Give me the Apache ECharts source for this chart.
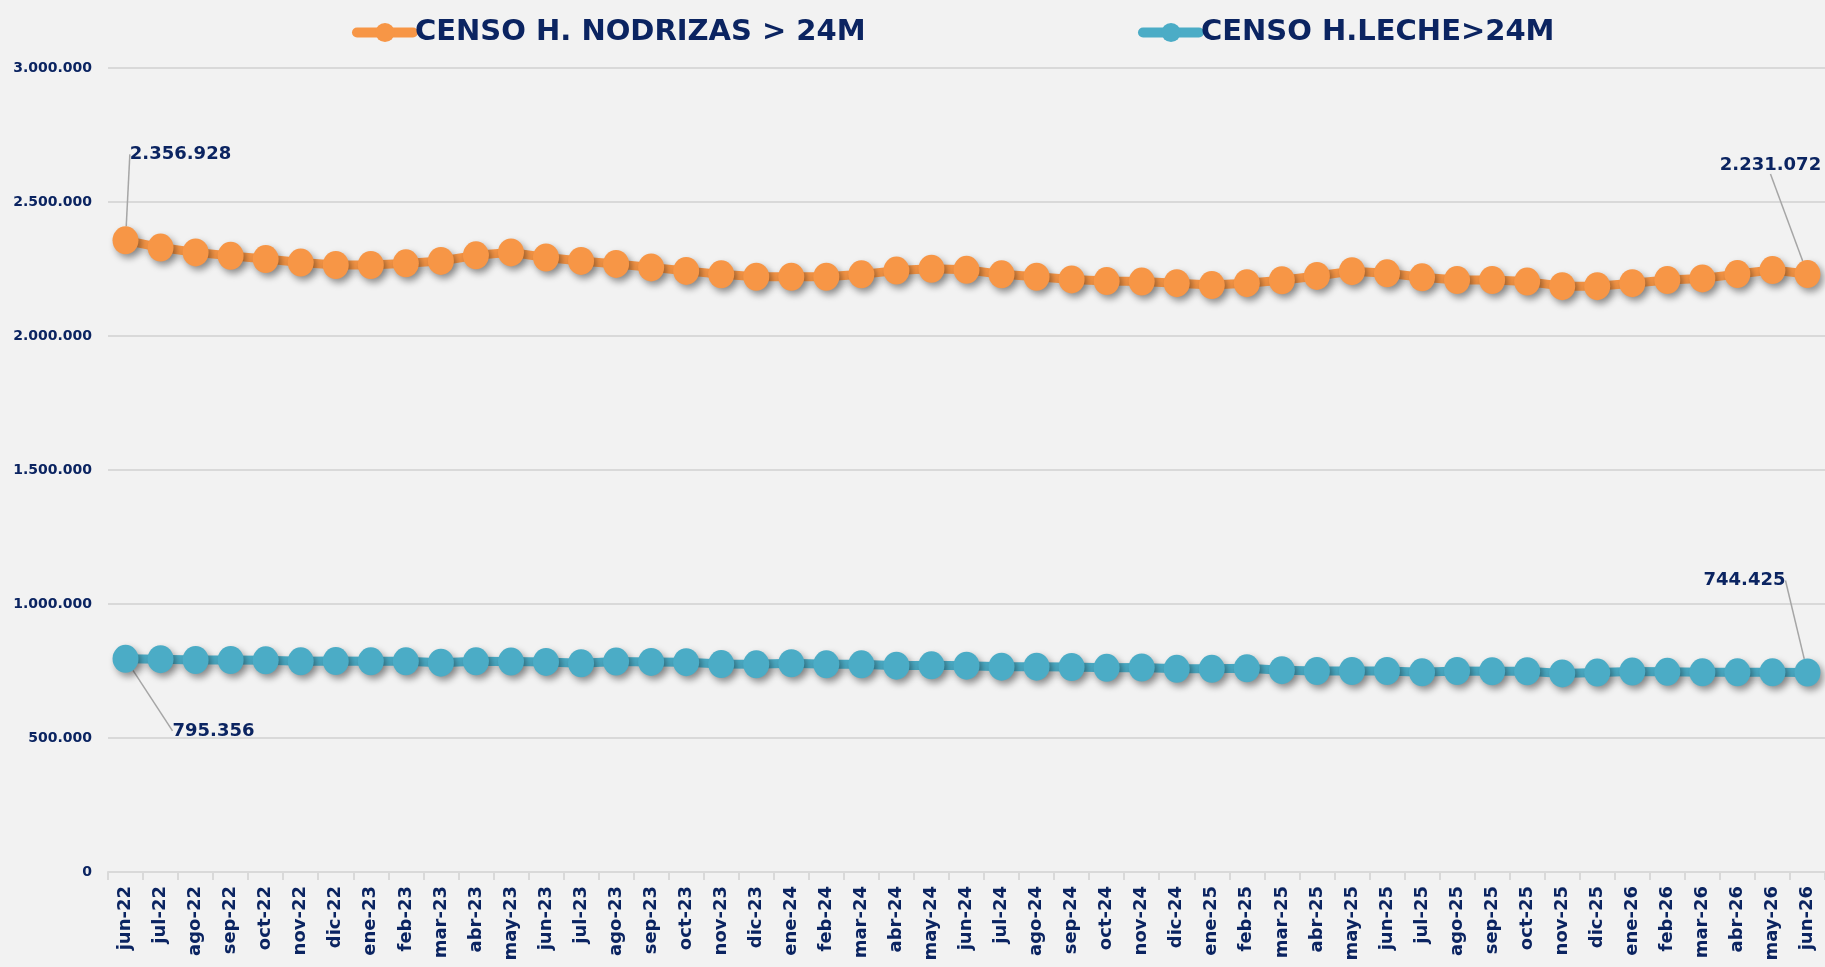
<!DOCTYPE html>
<html style="height: 100%">
<head>
    <meta charset="utf-8">
</head>
<body style="height: 100%; margin: 0; background: #f2f2f2">
    <div id="container" style="height: 100%"></div>
    <script src="https://cdn.jsdelivr.net/npm/echarts/dist/echarts.min.js"></script>
    <script type="text/javascript">
        // meses jun-22 .. jun-26
        var meses = ['jun-22', 'jul-22', 'ago-22', 'sep-22', 'oct-22', 'nov-22', 'dic-22',
            'ene-23', 'feb-23', 'mar-23', 'abr-23', 'may-23', 'jun-23', 'jul-23', 'ago-23', 'sep-23', 'oct-23', 'nov-23', 'dic-23',
            'ene-24', 'feb-24', 'mar-24', 'abr-24', 'may-24', 'jun-24', 'jul-24', 'ago-24', 'sep-24', 'oct-24', 'nov-24', 'dic-24',
            'ene-25', 'feb-25', 'mar-25', 'abr-25', 'may-25', 'jun-25', 'jul-25', 'ago-25', 'sep-25', 'oct-25', 'nov-25', 'dic-25',
            'ene-26', 'feb-26', 'mar-26', 'abr-26', 'may-26', 'jun-26'];

        var nodrizas = [2356928, 2330000, 2312000, 2299000, 2287000, 2274000, 2265000,
            2265000, 2271000, 2280000, 2301000, 2312000, 2293000, 2280000, 2269000, 2256000, 2243000, 2230000, 2221000,
            2221000, 2221000, 2230000, 2244000, 2251000, 2247000, 2230000, 2221000, 2211000, 2205000, 2203000, 2197000,
            2190000, 2197000, 2208000, 2224000, 2242000, 2234000, 2219000, 2209000, 2209000, 2203000, 2186000, 2186000,
            2197000, 2209000, 2215000, 2231000, 2246000, 2231072];

        var leche = [795356, 794000, 791000, 791000, 790000, 786000, 787000,
            786000, 786000, 781000, 786000, 785000, 784000, 779000, 785000, 784000, 783000, 776000, 775000,
            779000, 775000, 775000, 770000, 771000, 770000, 766000, 766000, 765000, 762000, 763000, 758000,
            758000, 760000, 753000, 750000, 750000, 750000, 745000, 750000, 749000, 749000, 741000, 744000,
            748000, 747000, 745000, 745000, 745000, 744425];

        var nombres = ['CENSO H. NODRIZAS > 24M', 'CENSO H.LECHE>24M'];
        var colores = ['#F79646', '#4BACC6'];
        var navy = '#0b2461';
        var fuente = '"DejaVu Sans", sans-serif';

        function miles(v) {
            return String(Math.round(v)).replace(/\B(?=(\d{3})+(?!\d))/g, '.');
        }

        // desplazamiento de las etiquetas respecto al punto [primero, ultimo]
        var desplaz = [
            [[55, -86], [-37, -109]],
            [[88, 72], [-63, -92]]
        ];
        // relleno de la caja de etiqueta, para que la guia salga por abajo
        var relleno = [
            [[0, 50, 6, 50], 0],
            [0, 0]
        ];

        // solo primer y ultimo punto llevan etiqueta
        function conEtiquetas(arr, s) {
            return arr.map(function (v, i) {
                if (i === 0 || i === arr.length - 1) {
                    return { value: v, label: { show: true, padding: relleno[s][i === 0 ? 0 : 1] } };
                }
                return v;
            });
        }

        var dom = document.getElementById("container");
        var myChart = echarts.init(dom);

        var serie = function (idx, datos) {
            return {
                name: nombres[idx],
                type: 'line',
                data: conEtiquetas(datos, idx),
                symbol: 'circle',
                symbolSize: [26, 28],
                color: colores[idx],
                lineStyle: {
                    width: 9,
                    color: colores[idx],
                    shadowColor: 'rgba(0,0,0,0.2)',
                    shadowBlur: 8,
                    shadowOffsetX: 3,
                    shadowOffsetY: 4
                },
                itemStyle: {
                    color: colores[idx],
                    shadowColor: 'rgba(0,0,0,0.4)',
                    shadowBlur: 7,
                    shadowOffsetX: 3,
                    shadowOffsetY: 4
                },
                label: {
                    show: false,
                    position: 'inside',
                    formatter: function (p) { return miles(p.value); },
                    color: navy,
                    fontFamily: fuente,
                    fontWeight: 'bold',
                    fontSize: 18
                },
                labelLine: {
                    show: true,
                    lineStyle: { color: '#a6a6a6', width: 1.5 }
                },
                labelLayout: function (p) {
                    var d = desplaz[p.seriesIndex][p.dataIndex === 0 ? 0 : 1];
                    return { dx: d[0], dy: d[1] };
                },
                emphasis: { disabled: true }
            };
        };

        var leyenda = function (idx, left) {
            return {
                data: [nombres[idx]],
                left: left,
                top: 13,
                itemWidth: 56,
                itemHeight: 24,
                itemGap: 2,
                itemStyle: { shadowBlur: 0, shadowOffsetX: 0, shadowOffsetY: 0 },
                lineStyle: { width: 10, cap: 'round', shadowBlur: 0, shadowOffsetX: 0, shadowOffsetY: 0 },
                textStyle: {
                    color: navy,
                    fontFamily: fuente,
                    fontWeight: 'bold',
                    fontSize: 29,
                    padding: [0, 0, 0, -3]
                }
            };
        };

        var option = {
            animation: false,
            backgroundColor: '#f2f2f2',
            legend: [leyenda(0, 347), leyenda(1, 1133)],
            grid: {
                left: 108,
                top: 68,
                width: 1722,
                height: 804
            },
            xAxis: {
                type: 'category',
                data: meses,
                boundaryGap: true,
                axisLine: { lineStyle: { color: '#d9d9d9', width: 2 } },
                axisTick: { show: true, length: 8, lineStyle: { color: '#d9d9d9', width: 2 } },
                axisLabel: {
                    rotate: 90,
                    interval: 0,
                    margin: 14,
                    color: navy,
                    fontFamily: fuente,
                    fontWeight: 'bold',
                    fontSize: 18
                }
            },
            yAxis: {
                type: 'value',
                min: 0,
                max: 3000000,
                interval: 500000,
                axisLine: { show: false },
                axisTick: { show: false },
                splitLine: { lineStyle: { color: '#d9d9d9', width: 2 } },
                axisLabel: {
                    margin: 16,
                    color: navy,
                    fontFamily: fuente,
                    fontWeight: 'bold',
                    fontSize: 14,
                    formatter: miles
                }
            },
            series: [serie(0, nodrizas), serie(1, leche)]
        };

        myChart.setOption(option);
    </script>
</body>
</html>
